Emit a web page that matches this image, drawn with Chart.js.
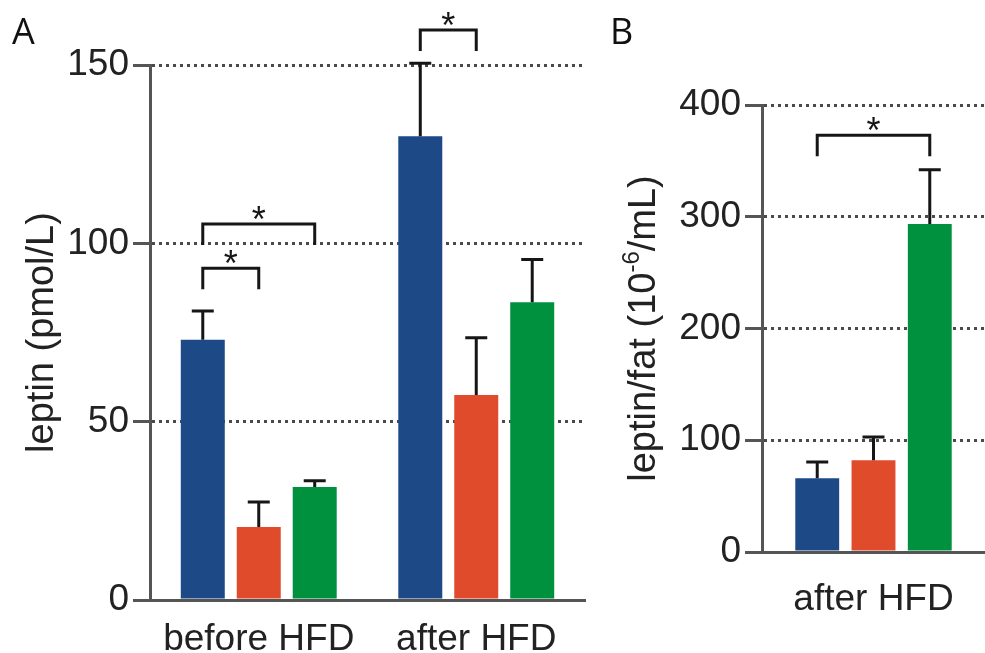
<!DOCTYPE html>
<html>
<head>
<meta charset="utf-8">
<script src="https://cdn.jsdelivr.net/npm/chart.js@4.4.1/dist/chart.umd.min.js"></script>
<style>
  html, body { margin: 0; padding: 0; background: #fff; }
  #wrap { position: relative; width: 985px; height: 653px; overflow: hidden; }
  #chartA { position: absolute; left: 0; top: 0; }
  #chartB { position: absolute; left: 590px; top: 0; }
</style>
</head>
<body>
<div id="wrap">
  <canvas id="chartA" width="590" height="653"></canvas>
  <canvas id="chartB" width="395" height="653"></canvas>
</div>
<script>
// ---- panel A: leptin (pmol/L)
const groupsA = ["before HFD", "after HFD"];
const leptinBlue = [73, 130];
const leptinBlueErr = [8, 20.5];
const leptinRed = [20.5, 57.5];
const leptinRedErr = [7, 16];
const leptinGreen = [31.7, 83.5];
const leptinGreenErr = [1.7, 12];
const ticksA = [0, 50, 100, 150];
// significance brackets: category, first bar, second bar, bracket height (data units)
const bracketsA = [
  { cat: 0, from: 0, to: 1, top: 93 },
  { cat: 0, from: 0, to: 2, top: 105.4 },
  { cat: 1, from: 0, to: 1, top: 159.8 }
];

// ---- panel B: leptin/fat
const groupsB = ["after HFD"];
const ratioBlue = [66];
const ratioBlueErr = [14.5];
const ratioRed = [82];
const ratioRedErr = [21];
const ratioGreen = [293.5];
const ratioGreenErr = [48.5];
const ticksB = [0, 100, 200, 300, 400];
const bracketsB = [
  { cat: 0, from: 0, to: 2, top: 373 }
];
const titleB = ["leptin/fat (10", "-6", "/mL)"];

const COLORS = ["#1d4a87", "#e04b2c", "#00913f"];
const INK = "#161616";
const AXIS = "#555555";
const FONT = "'Liberation Sans', Arial, sans-serif";

// error bars (upper only), brackets with stars, panel letter
function extrasPlugin(errs, brackets, letter, letterX) {
  return {
    id: "extras",
    afterDatasetsDraw(chart) {
      const ctx = chart.ctx;
      const y = chart.scales.y;
      ctx.save();
      ctx.strokeStyle = INK;
      ctx.lineWidth = 3;
      errs.forEach((arr, i) => {
        const meta = chart.getDatasetMeta(i);
        meta.data.forEach((bar, j) => {
          const v = chart.data.datasets[i].data[j];
          const top = y.getPixelForValue(v + arr[j]);
          ctx.beginPath();
          ctx.moveTo(bar.x, bar.y);
          ctx.lineTo(bar.x, top);
          ctx.moveTo(bar.x - 11, top);
          ctx.lineTo(bar.x + 11, top);
          ctx.stroke();
        });
      });
      brackets.forEach(b => {
        const x1 = chart.getDatasetMeta(b.from).data[b.cat].x;
        const x2 = chart.getDatasetMeta(b.to).data[b.cat].x;
        const yt = y.getPixelForValue(b.top);
        ctx.beginPath();
        ctx.moveTo(x1, yt + 21);
        ctx.lineTo(x1, yt);
        ctx.lineTo(x2, yt);
        ctx.lineTo(x2, yt + 21);
        ctx.stroke();
        ctx.fillStyle = INK;
        ctx.font = "36px " + FONT;
        ctx.textAlign = "center";
        ctx.textBaseline = "alphabetic";
        ctx.fillText("*", (x1 + x2) / 2, yt + 8);
      });
      ctx.fillStyle = "#111";
      ctx.font = "36px 'Open Sans', sans-serif";
      ctx.textAlign = "left";
      ctx.textBaseline = "alphabetic";
      ctx.fillText(letter, letterX, 44);
      ctx.restore();
    }
  };
}

// y title with a superscript, drawn by hand
const ratioTitlePlugin = {
  id: "ratioTitle",
  afterDraw(chart) {
    const ctx = chart.ctx;
    const a = chart.chartArea;
    const parts = [
      [titleB[0], "38px " + FONT, 0],
      [titleB[1], "24px " + FONT, -13],
      [titleB[2], "38px " + FONT, 0]
    ];
    ctx.save();
    ctx.translate(55, (a.top + a.bottom) / 2);
    ctx.rotate(-Math.PI / 2);
    ctx.fillStyle = "#222";
    ctx.textBaseline = "middle";
    ctx.textAlign = "left";
    let total = 0;
    parts.forEach(p => { ctx.font = p[1]; total += ctx.measureText(p[0]).width; });
    let x = -total / 2;
    parts.forEach(p => {
      ctx.font = p[1];
      ctx.fillText(p[0], x, p[2]);
      x += ctx.measureText(p[0]).width;
    });
    ctx.restore();
  }
};

function yScale(max, step, tickVals, title, width) {
  return {
    min: 0,
    max: max,
    afterBuildTicks: s => { s.ticks = tickVals.map(v => ({ value: v })); },
    ticks: { stepSize: step, color: "#222", font: { family: FONT, size: 37 }, padding: 4 },
    grid: {
      color: c => (c.tick && c.tick.value === 0 ? "rgba(0,0,0,0)" : "#4a4a4a"),
      lineWidth: 3,
      tickLength: 17,
      tickColor: AXIS,
      tickWidth: 3,
      tickBorderDash: []
    },
    border: { color: AXIS, width: 3, dash: [3, 4] },
    title: title
      ? { display: true, text: title, color: "#222", font: { family: FONT, size: 38 }, padding: { top: 20, bottom: 0 } }
      : { display: false },
    afterFit: s => { s.width = width; }
  };
}

function xScale(pad, height) {
  return {
    grid: { display: false },
    border: { color: AXIS, width: 3 },
    ticks: { color: "#222", font: { family: FONT, size: 37 }, padding: pad },
    afterFit: s => { s.height = height; }
  };
}

function bars(label, data, color, catPct, barPct) {
  return {
    label: label,
    data: data,
    backgroundColor: color,
    borderWidth: 0,
    categoryPercentage: catPct,
    barPercentage: barPct
  };
}

new Chart(document.getElementById("chartA"), {
  type: "bar",
  data: {
    labels: groupsA,
    datasets: [
      bars("group 1", leptinBlue, COLORS[0], 0.772, 0.786),
      bars("group 2", leptinRed, COLORS[1], 0.772, 0.786),
      bars("group 3", leptinGreen, COLORS[2], 0.772, 0.786)
    ]
  },
  options: {
    responsive: false,
    animation: false,
    layout: { padding: { top: 65, right: 5, left: 0, bottom: 0 } },
    plugins: { legend: { display: false }, tooltip: { enabled: false } },
    scales: {
      x: xScale(10, 53),
      y: yScale(150, 50, ticksA, "leptin (pmol/L)", 150)
    }
  },
  plugins: [extrasPlugin([leptinBlueErr, leptinRedErr, leptinGreenErr], bracketsA, "A", 12)]
});

new Chart(document.getElementById("chartB"), {
  type: "bar",
  data: {
    labels: groupsB,
    datasets: [
      bars("group 1", ratioBlue, COLORS[0], 0.757, 0.78),
      bars("group 2", ratioRed, COLORS[1], 0.757, 0.78),
      bars("group 3", ratioGreen, COLORS[2], 0.757, 0.78)
    ]
  },
  options: {
    responsive: false,
    animation: false,
    layout: { padding: { top: 105, right: 0, left: 0, bottom: 0 } },
    plugins: { legend: { display: false }, tooltip: { enabled: false } },
    scales: {
      x: xScale(18, 101),
      y: yScale(400, 100, ticksB, null, 172)
    }
  },
  plugins: [extrasPlugin([ratioBlueErr, ratioRedErr, ratioGreenErr], bracketsB, "B", 20), ratioTitlePlugin]
});
</script>
</body>
</html>
